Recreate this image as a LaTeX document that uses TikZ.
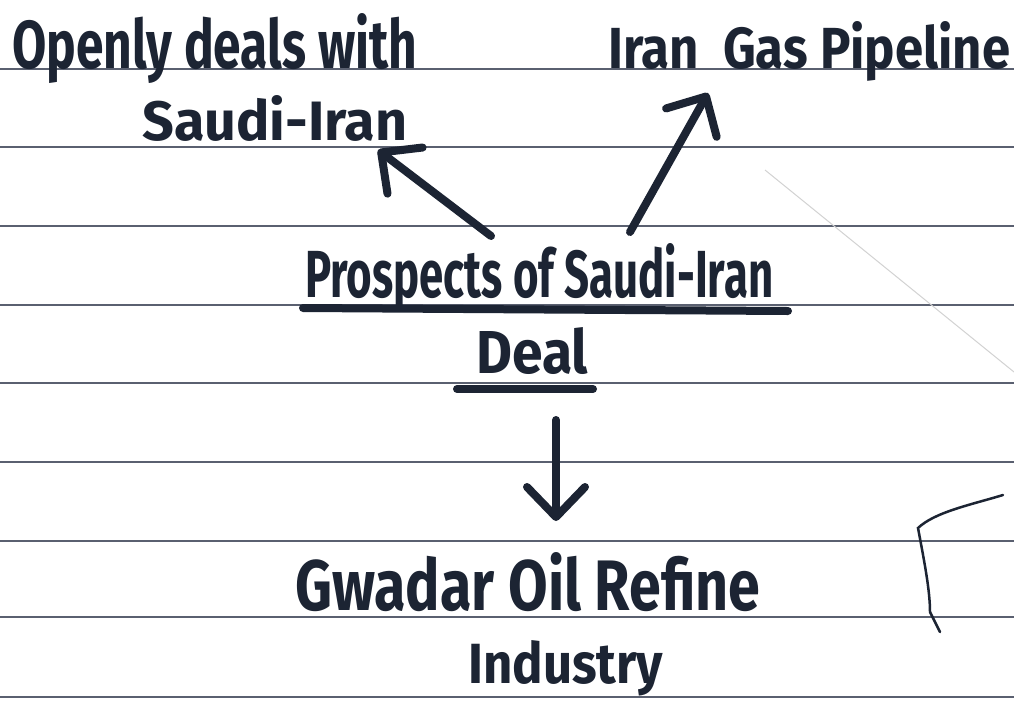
\documentclass[tikz,border=0pt]{standalone}
\usepackage{fontspec}
\setmainfont{Fira Sans}
\usetikzlibrary{arrows.meta}
\definecolor{ink}{HTML}{1C2433}
\definecolor{rulecol}{HTML}{5A6070}
\newcommand{\hwtext}[3]{\resizebox{#1pt}{#2pt}{\bfseries #3}}
\begin{document}
\begin{tikzpicture}[x=1pt,y=-1pt,
  ruling/.style={draw=rulecol, line width=1.6pt},
  hw/.style={inner sep=0pt, text=ink, anchor=base west},
  pen/.style={draw=ink, line width=8pt, line cap=round},
  penarrow/.style={pen, -{Straight Barb[length=30pt,width=58pt,line cap=round,line join=round]}}]
\fill[white] (0,0) rectangle (1014,713);
\path[use as bounding box] (0,0) rectangle (1014,713);
% ruled paper
\foreach \yy in {69,147,226,305,383,462,541,617,697}
  \draw[ruling] (0,\yy) -- (1014,\yy);
\draw[gray!35, line width=1pt] (765,170) -- (1014,372);
% texts
\node[hw] (t1) at (12,68) {\hwtext{405}{55}{Openly deals with}};
\node[hw] (t2) at (142,140) {\hwtext{265}{45}{Saudi-Iran}};
\node[hw] (t3) at (608,68) {\hwtext{402}{47}{Iran\ \ Gas Pipeline}};
\node[hw] (t4) at (305,297) {\hwtext{468}{54}{Prospects of Saudi-Iran}};
\node[hw] (t5) at (476,373) {\hwtext{112}{46}{Deal}};
\node[hw] (t6) at (295,610) {\hwtext{465}{58}{Gwadar Oil Refine}};
\node[hw] (t7) at (468,683) {\hwtext{195}{43}{Industry}};
% underlines
\draw[pen] (303,308) -- (788,311);
\draw[pen] (457,389) -- (593,389);
% arrow ends
\coordinate (a1s) at (491,236);
\coordinate (a1e) at (378,150);
\coordinate (a2s) at (630,232);
\coordinate (a2e) at (708,93);
\coordinate (a3s) at (556,420);
\coordinate (a3e) at (556,521);
\draw[penarrow] (a1s) -- (a1e);
\draw[penarrow] (a2s) -- (a2e);
\draw[penarrow] (a3s) -- (a3e);
% stray pen mark
\draw[ink, line width=2.5pt, line cap=round] (1003,495) .. controls (970,505) and (935,512) .. (918,528) .. controls (924,560) and (930,590) .. (930,612) -- (940,632);
\end{tikzpicture}
\end{document}
